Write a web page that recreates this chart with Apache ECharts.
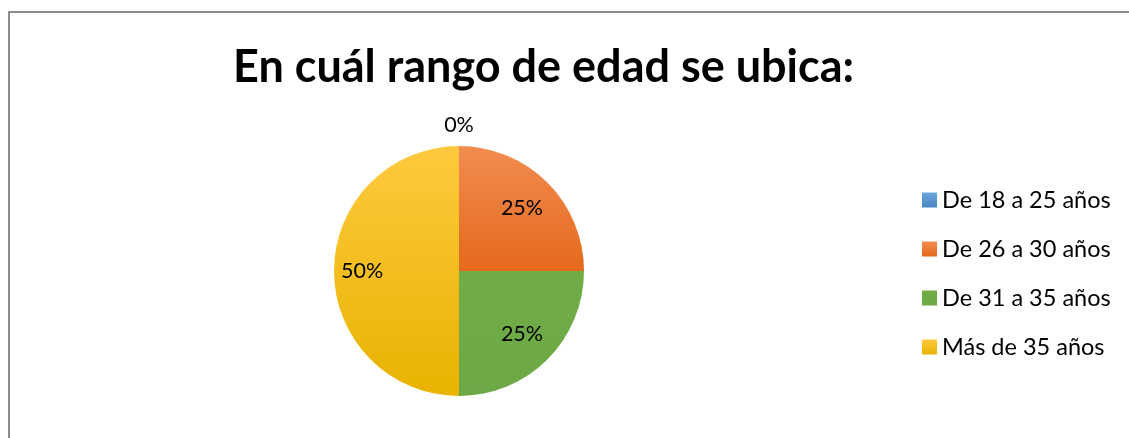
<!DOCTYPE html>
<html><head><meta charset="utf-8">
<script src="https://cdn.jsdelivr.net/npm/echarts@6/dist/echarts.min.js"></script>
<style>html,body{margin:0;padding:0;background:#fff}#c{width:1129px;height:438px}</style>
</head><body><div id="c"></div>
<script>
const titleText = 'En cuál rango de edad se ubica:';
const categories = ['De 18 a 25 años', 'De 26 a 30 años', 'De 31 a 35 años', 'Más de 35 años'];
const values = [0, 25, 25, 50];
const topColors = ['#6AA6DC', '#F18C50', '#70AD47', '#FFC93F'];
const bottomColors = ['#4A86C5', '#E5691C', '#6CA845', '#E8B300'];
const labelRadial = [2.23, 1.36, 1.36, 1.48];

const FONT = 'Lato';
const chart = echarts.init(document.getElementById('c'));
const cx = 459, cy = 271;
chart.setOption({
  animation: false,
  graphic: [{
    type: 'rect', shape: {x: 9, y: 12, width: 1200, height: 500},
    style: {fill: 'none', stroke: '#8c8c8c', lineWidth: 2}, silent: true
  }],
  title: {
    text: titleText, left: 228, top: 40,
    textStyle: {fontFamily: FONT, fontWeight: 'bold', fontSize: 45, color: '#000'}
  },
  legend: {
    orient: 'vertical', left: 917, top: 183, icon: 'rect',
    itemWidth: 15, itemHeight: 15, itemGap: 25, itemTextGap: 6,
    textStyle: {fontFamily: FONT, fontSize: 23.5, color: '#000'},
    data: categories
  },
  series: [{
    type: 'pie', center: [cx, cy], radius: 125, startAngle: 90, clockwise: true,
    avoidLabelOverlap: false,
    label: {
      show: true, position: 'inside', fontFamily: FONT, fontSize: 21.5, color: '#000',
      formatter: p => Math.round(p.percent) + '%'
    },
    labelLine: {show: false},
    labelLayout: function (p) {
      const r = p.labelRect;
      const lx = r.x + r.width / 2, ly = r.y + r.height / 2;
      const k = labelRadial[p.dataIndex] - 1;
      return {dx: (lx - cx) * k, dy: (ly - cy) * k};
    },
    emphasis: {disabled: true},
    data: categories.map((n, i) => ({
      name: n, value: values[i],
      itemStyle: {color: new echarts.graphic.LinearGradient(0, 0, 0, 1, [
        {offset: 0, color: topColors[i]}, {offset: 1, color: bottomColors[i]}])}
    }))
  }]
});
</script></body></html>
